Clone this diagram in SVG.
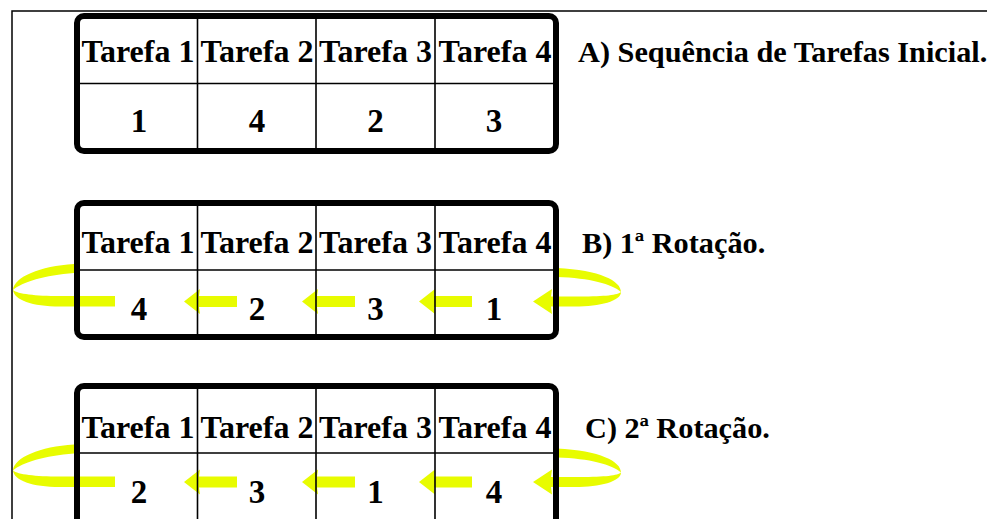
<svg xmlns="http://www.w3.org/2000/svg" xmlns:xlink="http://www.w3.org/1999/xlink" width="987" height="519" viewBox="0 0 987 519">
<style>
.frame{fill:none;stroke:#000;stroke-width:1.5}
.tbl{fill:none;stroke:#000;stroke-width:6}
.grid{stroke:#000;stroke-width:1.6;fill:none}
.hd{font-family:"Liberation Serif","Times New Roman",serif;font-weight:bold;font-size:32px;text-anchor:middle;fill:#000}
.num{font-family:"Liberation Serif","Times New Roman",serif;font-weight:bold;font-size:33px;text-anchor:middle;fill:#000}
.lbl{font-family:"Liberation Serif","Times New Roman",serif;font-weight:bold;font-size:30.3px;fill:#000}
.yl{fill:#E8FC00;stroke:none}
</style>
<defs>
<path id="arr" d="M0,0 L16,-12.5 L15,-5.5 L53,-5.5 L53,5.5 L15,5.5 L16,12.5 Z"/>
</defs>
<rect class="frame" x="12" y="11" width="1000" height="600"/>

<g id="tableA">
<rect class="tbl" x="77" y="16" width="479" height="135" rx="7"/>
<path class="grid" d="M197.5,16V151M316,16V151M435,16V151M77,83.5H556"/>
<text class="hd" x="138" y="62">Tarefa 1</text>
<text class="hd" x="257" y="62">Tarefa 2</text>
<text class="hd" x="375.5" y="62">Tarefa 3</text>
<text class="hd" x="495" y="62">Tarefa 4</text>
<text class="num" x="139" y="132">1</text>
<text class="num" x="257" y="132">4</text>
<text class="num" x="375.5" y="132">2</text>
<text class="num" x="494" y="132">3</text>
</g>
<text id="labelA" class="lbl" x="578" y="62">A) Sequência de Tarefas Inicial.</text>

<g id="connectors">
<g id="arrowsB">
<use class="yl" xlink:href="#arr" href="#arr" x="184" y="301.5"/>
<use class="yl" xlink:href="#arr" href="#arr" x="302" y="301.5"/>
<use class="yl" xlink:href="#arr" href="#arr" x="419" y="301.5"/>
<path class="yl" d="M557,268 C600,270 621,281 621,292 C621,301 600,306.5 575,306.5 L551,306.5 L552,314 L533,301.5 L552,289 L551,296.5 L580,296.5 C605,296.5 618,295 621,292 C612,284 590,278 557,277 Z"/>
<path class="yl" d="M74,264 C40,266 14,277 13,290 C14,300 32,306.5 60,306.5 L115,306.5 L115,296 L60,296 C35,296 18,294 13,290 C22,282 45,275 74,273 Z"/>
</g>
<g id="arrowsC">
<use class="yl" xlink:href="#arr" href="#arr" x="184" y="482"/>
<use class="yl" xlink:href="#arr" href="#arr" x="302" y="482"/>
<use class="yl" xlink:href="#arr" href="#arr" x="419" y="482"/>
<path class="yl" transform="translate(0,180.5)" d="M557,268 C600,270 621,281 621,292 C621,301 600,306.5 575,306.5 L551,306.5 L552,314 L533,301.5 L552,289 L551,296.5 L580,296.5 C605,296.5 618,295 621,292 C612,284 590,278 557,277 Z"/>
<path class="yl" transform="translate(0,180.5)" d="M74,264 C40,266 14,277 13,290 C14,300 32,306.5 60,306.5 L115,306.5 L115,296 L60,296 C35,296 18,294 13,290 C22,282 45,275 74,273 Z"/>
</g>
</g>

<g id="tableB">
<rect class="tbl" x="77" y="203" width="479" height="134" rx="7"/>
<path class="grid" d="M197.5,203V337M316,203V337M435,203V337M77,270H556"/>
<text class="hd" x="138" y="253">Tarefa 1</text>
<text class="hd" x="257" y="253">Tarefa 2</text>
<text class="hd" x="375.5" y="253">Tarefa 3</text>
<text class="hd" x="495" y="253">Tarefa 4</text>
<text class="num" x="139" y="320">4</text>
<text class="num" x="257" y="320">2</text>
<text class="num" x="375.5" y="320">3</text>
<text class="num" x="494" y="320">1</text>
</g>
<text id="labelB" class="lbl" x="582" y="253">B) 1ª Rotação.</text>

<g id="tableC">
<rect class="tbl" x="77" y="386" width="479" height="140" rx="7"/>
<path class="grid" d="M197.5,386V526M316,386V526M435,386V526M77,453H556"/>
<text class="hd" x="138" y="438">Tarefa 1</text>
<text class="hd" x="257" y="438">Tarefa 2</text>
<text class="hd" x="375.5" y="438">Tarefa 3</text>
<text class="hd" x="495" y="438">Tarefa 4</text>
<text class="num" x="139" y="503">2</text>
<text class="num" x="257" y="503">3</text>
<text class="num" x="375.5" y="503">1</text>
<text class="num" x="494" y="503">4</text>
</g>
<text id="labelC" class="lbl" x="585" y="438">C) 2ª Rotação.</text>
</svg>
